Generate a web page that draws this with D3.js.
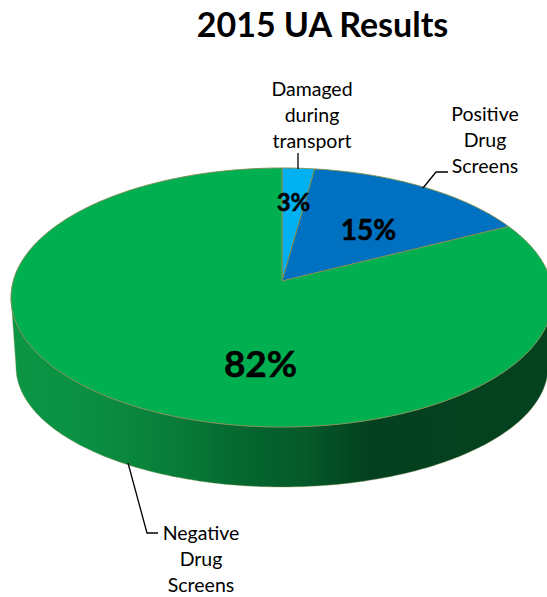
<!DOCTYPE html>
<html>
<head>
<meta charset="utf-8">
<script src="https://cdn.jsdelivr.net/npm/d3@7"></script>
<style>
  body { margin: 0; background: #fff; overflow: hidden; }
  text { font-family: Lato, "Open Sans", sans-serif; fill: #000; }
</style>
</head>
<body>
<div id="app"></div>
<script>
const categories = ["Damaged during transport", "Positive Drug Screens", "Negative Drug Screens"]
const values = [2.4, 15.7, 81.9]
const percentLabels = ["3%", "15%", "82%"]
const colors = ["#00b0f0", "#0070c0", "#00b050"]

const width = 547, height = 597

// the tilted disc: ellipse of the top face, ellipse of the wall's lower rim, slice apex
const top_ = {cx: 282, cy: 297.5, rx: 271, ry: 129.5}
const bottom = {cx: 282, cy: 367, rx: 266, ry: 120}
const apex = {x: 282, y: 281}
const squash = 0.52

const svg = d3.select("#app").append("svg").attr("width", width).attr("height", height)

const grad = svg.append("defs").append("linearGradient").attr("id", "wall")
  .attr("gradientUnits", "userSpaceOnUse")
  .attr("x1", 11).attr("x2", 547).attr("y1", 0).attr("y2", 0)
const wallStops = [[0, "#0b9645"], [0.15, "#0a8f42"], [0.22, "#0a873d"], [0.32, "#087a38"],
  [0.43, "#05682f"], [0.55, "#05592a"], [0.67, "#03401f"], [1, "#03421f"]]
grad.selectAll("stop").data(wallStops).join("stop")
  .attr("offset", d => d[0]).attr("stop-color", d => d[1])

// a pie angle (0 = up, clockwise) goes out from the apex and hits the ellipse here
const rim = a => {
  const dx = Math.sin(a), dy = -squash * Math.cos(a)
  const ox = apex.x - top_.cx, oy = apex.y - top_.cy
  const A = dx * dx / (top_.rx * top_.rx) + dy * dy / (top_.ry * top_.ry)
  const B = 2 * (ox * dx / (top_.rx * top_.rx) + oy * dy / (top_.ry * top_.ry))
  const C = ox * ox / (top_.rx * top_.rx) + oy * oy / (top_.ry * top_.ry) - 1
  const t = (-B + Math.sqrt(B * B - 4 * A * C)) / (2 * A)
  return [apex.x + t * dx, apex.y + t * dy]
}
const onEllipse = (e, t) => [e.cx + e.rx * Math.cos(t), e.cy + e.ry * Math.sin(t)]

const line = d3.line()
const arcs = d3.pie().sort(null)(values)

// wall first, only the front half of the disc shows it
const halfTurn = d3.range(0, Math.PI + 0.001, Math.PI / 120)
const wallPts = halfTurn.map(t => onEllipse(top_, t))
  .concat(halfTurn.slice().reverse().map(t => onEllipse(bottom, t)))
svg.append("path").attr("d", line(wallPts) + "Z")
  .style("fill", "url(#wall)").style("stroke", "#8f9a5a").style("stroke-width", 0.4)

const sliceEdge = d => {
  const n = Math.ceil((d.endAngle - d.startAngle) / 0.01)
  const pts = d3.range(n + 1).map(i => rim(d.startAngle + (d.endAngle - d.startAngle) * i / n))
  return line([[apex.x, apex.y]].concat(pts)) + "Z"
}

svg.selectAll(".slice").data(arcs).join("path").attr("class", "slice")
  .attr("d", sliceEdge)
  .style("fill", (d, i) => colors[i])
  .style("stroke", "#7d8f55").style("stroke-width", 1)

// title
svg.append("text").attr("x", 322.5).attr("y", 37).attr("text-anchor", "middle")
  .style("font-size", "34px").style("font-weight", 700).text("2015 UA Results")

// percent labels on the slices, a thin outline makes them as heavy as the original
const pctPos = [[293.5, 211, 24], [368.5, 240, 28], [260.5, 377, 37]]
svg.selectAll(".pct").data(percentLabels).join("text").attr("class", "pct")
  .attr("x", (d, i) => pctPos[i][0]).attr("y", (d, i) => pctPos[i][1])
  .attr("text-anchor", "middle").style("font-weight", 700)
  .style("stroke", "#000").style("stroke-width", 0.5)
  .style("font-size", (d, i) => pctPos[i][2] + "px").text(d => d)

// category labels, wrapped like the original
const catLines = [["Damaged", "during", "transport"], ["Positive", "Drug", "Screens"], ["Negative", "Drug", "Screens"]]
const catPos = [[312, 96], [485, 121], [201, 540]]
catLines.forEach((lines, i) => {
  svg.append("text").attr("text-anchor", "middle").attr("aria-label", categories[i])
    .style("font-size", "19.5px")
    .selectAll("tspan").data(lines).join("tspan")
    .attr("x", catPos[i][0]).attr("y", (d, j) => catPos[i][1] + j * 26).text(d => d)
})

// leader lines
const leaders = [
  [[298, 153], [298, 169]],
  [[448, 172], [436, 172], [423, 188]],
  [[128, 463], [147, 533], [158, 533]]
]
svg.selectAll(".leader").data(leaders).join("path").attr("class", "leader")
  .attr("d", d => line(d)).style("fill", "none").style("stroke", "#000").style("stroke-width", 1.3)
</script>
</body>
</html>
